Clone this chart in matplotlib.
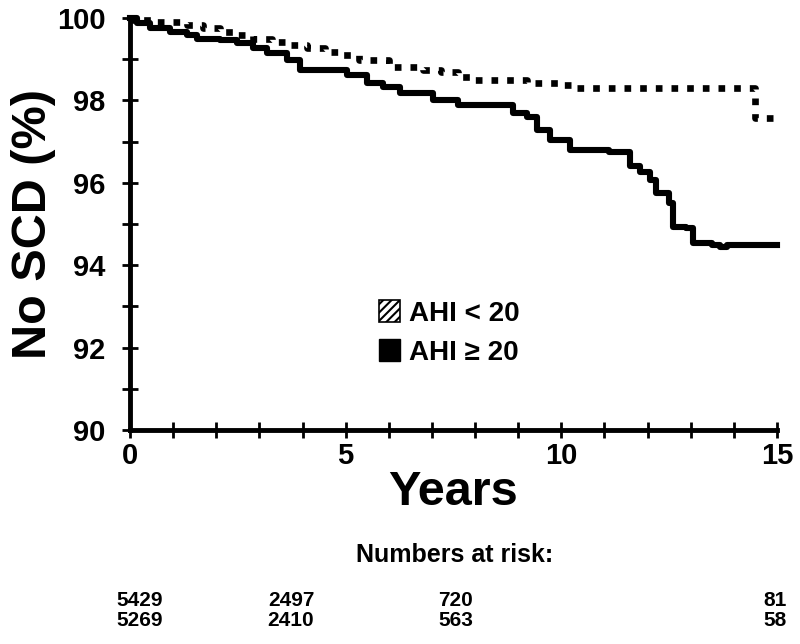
#km_scd.py
#Kaplan-Meier style plot of freedom from SCD by AHI group
#with numbers at risk printed under the axis

import matplotlib
matplotlib.use("Agg")
import matplotlib.pyplot as plt
from matplotlib.patches import Patch

plt.rcParams['font.family'] = ['Liberation Sans', 'DejaVu Sans']
plt.rcParams['hatch.linewidth'] = 1.5

#AHI < 20 (dotted curve), years and % without SCD
t_low = [0, 0.07, 0.53, 1.32, 1.69, 2.09, 2.48, 2.85, 3.29, 3.71, 4.10, 4.52, 4.87,
         5.30, 6.00, 6.80, 7.20, 7.60, 7.95, 9.20, 10.00, 10.30, 14.50, 15.0]
v_low = [100, 99.95, 99.90, 99.83, 99.76, 99.66, 99.59, 99.50, 99.42, 99.35, 99.27, 99.17, 99.10,
         98.98, 98.80, 98.74, 98.70, 98.57, 98.50, 98.42, 98.37, 98.30, 97.57, 97.57]

#AHI >= 20 (solid curve)
t_high = [0, 0.16, 0.46, 0.93, 1.32, 1.55, 2.09, 2.48, 2.85, 3.18, 3.64, 3.94, 5.03,
          5.50, 5.87, 6.26, 7.02, 7.60, 8.88, 9.20, 9.44, 9.74, 10.20, 11.10, 11.60,
          11.83, 12.06, 12.20, 12.50, 12.59, 12.60, 12.90, 13.05, 13.50, 13.68, 13.84, 15.0]
v_high = [100, 99.88, 99.76, 99.66, 99.59, 99.50, 99.47, 99.40, 99.27, 99.15, 98.98, 98.74, 98.62,
          98.42, 98.33, 98.18, 98.00, 97.90, 97.70, 97.60, 97.28, 97.04, 96.80, 96.75, 96.40,
          96.26, 96.07, 95.75, 95.50, 95.27, 94.93, 94.90, 94.54, 94.49, 94.45, 94.50, 94.50]

#numbers at risk
risk_low = ["5429", "2497", "720", "81"]
risk_high = ["5269", "2410", "563", "58"]
risk_x = [140, 291, 456, 775]   #pixel centres of the columns

W, H = 800, 644
fig = plt.figure(figsize=(W/100, H/100), dpi=100)
ax = fig.add_axes([130/W, 1-430/H, 647/W, 412/H])

ax.step(t_low, v_low, where='post', color='black', lw=4.8,
        linestyle=(0, (1, 1.35)), dash_capstyle='butt', clip_on=False)
ax.step(t_high, v_high, where='post', color='black', lw=4.4, clip_on=False)

ax.set_xlim(0, 15)
ax.set_ylim(90, 100)
for s in ['top', 'right']:
    ax.spines[s].set_visible(False)
for s in ['left', 'bottom']:
    ax.spines[s].set_linewidth(3.5)

ax.set_xticks(range(0, 16))
ax.set_xticklabels([str(i) if i % 5 == 0 else "" for i in range(16)])
ax.set_yticks(range(90, 101))
ax.set_yticklabels([str(i) if i % 2 == 0 else "" for i in range(90, 101)])
ax.tick_params(direction='inout', length=11, width=2, labelsize=21)
ax.tick_params(axis='y', pad=12)
ax.tick_params(axis='x', pad=3)
for lab in ax.get_xticklabels() + ax.get_yticklabels():
    lab.set_fontweight('bold')

ax.set_xlabel("Years", fontsize=35, fontweight='bold', labelpad=0)
ax.set_ylabel("No SCD (%)", fontsize=35, fontweight='bold', labelpad=1)

handles = [Patch(facecolor='white', edgecolor='black', hatch='////', lw=1.2),
           Patch(facecolor='black', edgecolor='black')]
fig.legend(handles, ["AHI < 20", "AHI \u2265 20"], loc='center left',
           bbox_to_anchor=(365/W, 1-333/H), frameon=False,
           prop={'size': 20, 'weight': 'bold'}, handlelength=0.75, handleheight=0.85,
           handletextpad=0.35, labelspacing=0.45, borderpad=0)

fig.text(455/W, 1-555/H, "Numbers at risk:", ha='center', va='center',
         fontsize=18, fontweight='bold')
for x, a, b in zip(risk_x, risk_low, risk_high):
    fig.text(x/W, 1-600/H, a, ha='center', va='center', fontsize=15, fontweight='bold')
    fig.text(x/W, 1-621/H, b, ha='center', va='center', fontsize=15, fontweight='bold')

fig.savefig("out.png", dpi=100)
